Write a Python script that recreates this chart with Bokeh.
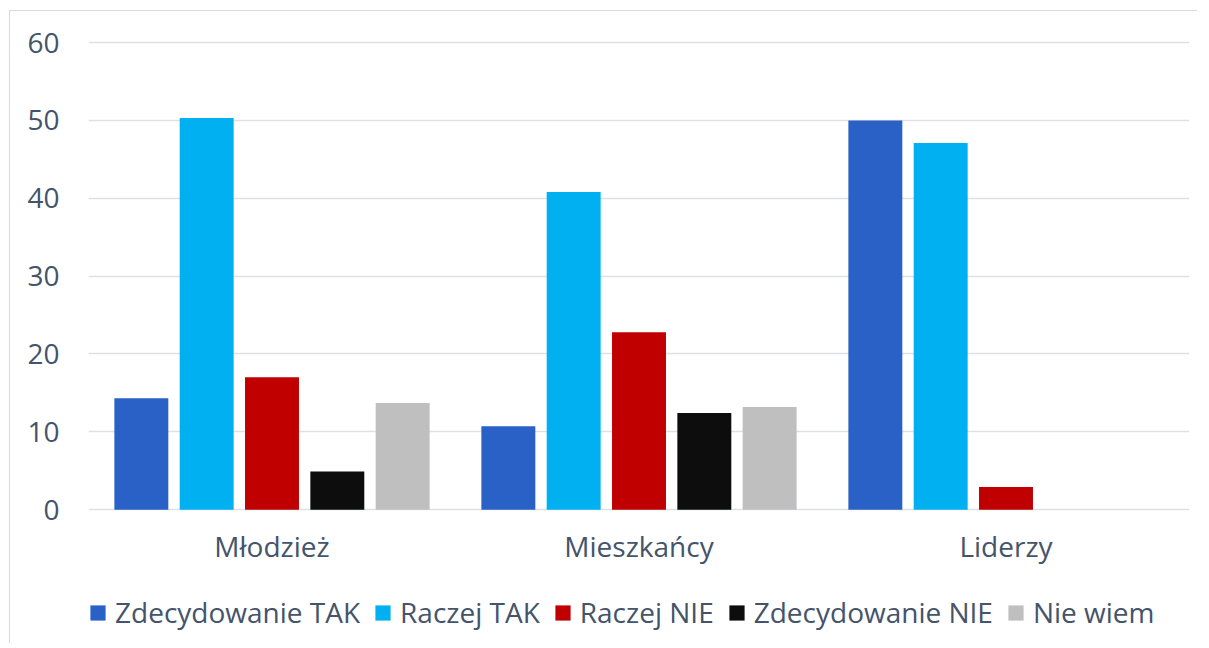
from bokeh.plotting import figure
from bokeh.models import FactorRange, ColumnDataSource, Legend, LegendItem, FixedTicker
from bokeh.transform import dodge
from bokeh.embed import file_html
from bokeh.resources import INLINE

categories = ["Młodzież", "Mieszkańcy", "Liderzy"]
series_names = ["Zdecydowanie TAK", "Raczej TAK", "Raczej NIE", "Zdecydowanie NIE", "Nie wiem"]
zdecydowanie_tak = [14.3, 10.7, 50.0]
raczej_tak = [50.3, 40.8, 47.1]
raczej_nie = [17.0, 22.8, 2.9]
zdecydowanie_nie = [4.9, 12.4, 0.0]
nie_wiem = [13.7, 13.2, 0.0]
y_ticks = [0, 10, 20, 30, 40, 50, 60]

colors = ["#2961C6", "#00B0F0", "#C00000", "#0D0D0D", "#BFBFBF"]
TEXT = "#44546A"
FONT = "Open Sans"
FS = "28px"

source = ColumnDataSource(data=dict(
    cat=categories,
    s0=zdecydowanie_tak,
    s1=raczej_tak,
    s2=raczej_nie,
    s3=zdecydowanie_nie,
    s4=nie_wiem,
))

p = figure(
    x_range=FactorRange(*categories, range_padding=0),
    y_range=(-16.17, 60.4),
    frame_width=1101, frame_height=596,
    output_backend="svg", toolbar_location=None,
    min_border_left=78, min_border_right=8, min_border_top=28, min_border_bottom=8,
)
p.styles = {"border-left": "1px solid #D9D9D9", "border-top": "1px solid #D9D9D9",
            "margin-left": "9px", "margin-top": "10px"}

step = 0.178
bw = 0.147
offsets = [-2 * step, -step, 0, step, 2 * step]
renderers = []
for i, name in enumerate(series_names):
    r = p.vbar(x=dodge("cat", offsets[i], range=p.x_range), top="s%d" % i, width=bw,
               source=source, fill_color=colors[i], line_color=None)
    renderers.append(r)

legend = Legend(items=[LegendItem(label=n, renderers=[r]) for n, r in zip(series_names, renderers)],
                orientation="horizontal", location=(0, 4))
legend.label_text_font = FONT
legend.label_text_font_size = FS
legend.label_text_color = TEXT
legend.glyph_width = 19
legend.glyph_height = 19
legend.label_standoff = 8
legend.spacing = 13
legend.padding = 0
legend.margin = 0
legend.border_line_color = None
legend.background_fill_alpha = 0
p.add_layout(legend, "center")

p.yaxis.ticker = FixedTicker(ticks=y_ticks)
p.yaxis.axis_line_color = None
p.yaxis.major_tick_line_color = None
p.yaxis.minor_tick_line_color = None
p.yaxis.major_label_text_font = FONT
p.yaxis.major_label_text_font_size = FS
p.yaxis.major_label_text_color = TEXT
p.yaxis.major_label_standoff = 23

p.xaxis.fixed_location = 0
p.xaxis.axis_line_color = None
p.xaxis.major_tick_line_color = None
p.xaxis.major_label_text_font = FONT
p.xaxis.major_label_text_font_size = FS
p.xaxis.major_label_text_color = TEXT
p.xaxis.major_label_standoff = 11

p.xgrid.grid_line_color = None
p.ygrid.grid_line_color = "#DDE1E7"
p.ygrid.grid_line_width = 1.5
p.outline_line_color = None

open("out.html", "w").write(file_html(p, INLINE))
